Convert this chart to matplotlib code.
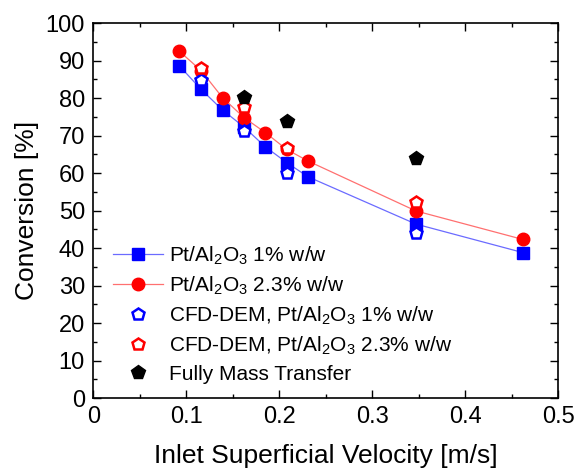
import matplotlib
matplotlib.use('Agg')
import matplotlib.pyplot as plt
from matplotlib.ticker import MultipleLocator

plt.rcParams['font.family'] = ['Liberation Sans', 'DejaVu Sans']
plt.rcParams['mathtext.fontset'] = 'custom'
plt.rcParams['mathtext.rm'] = 'Liberation Sans'

# experimental data
vel = [0.0925, 0.116, 0.139, 0.162, 0.185, 0.208, 0.231, 0.347, 0.462]
conv_1 = [88.6, 82.3, 76.8, 72.3, 67.0, 62.8, 59.0, 46.4, 38.8]
conv_23 = [92.5, 87.3, 80.1, 74.8, 70.8, 66.3, 63.2, 49.9, 42.3]

# CFD-DEM simulations
vel_cfd = [0.116, 0.162, 0.208, 0.347]
cfd_1 = [84.8, 71.2, 60.1, 44.1]
cfd_23 = [87.9, 77.5, 66.6, 52.4]

# fully mass transfer limited
vel_mt = [0.162, 0.208, 0.347]
conv_mt = [80.2, 73.9, 64.1]

fig = plt.figure(figsize=(5.76, 4.70), dpi=100)
ax = fig.add_axes([0.162, 0.153, 0.807, 0.798])

ax.plot(vel, conv_1, '-', color='#6b6bff', lw=0.9, marker='s', ms=8,
        mfc='blue', mec='blue', label=r'Pt/Al$_2$O$_3$ 1% w/w')
ax.plot(vel, conv_23, '-', color='#ff7070', lw=0.9, marker='o', ms=9,
        mfc='red', mec='red', label=r'Pt/Al$_2$O$_3$ 2.3% w/w')
ax.plot(vel_cfd, cfd_1, ls='none', marker='p', ms=9, mfc='white', mec='blue',
        mew=1.8, label=r'CFD-DEM, Pt/Al$_2$O$_3$ 1% w/w')
ax.plot(vel_cfd, cfd_23, ls='none', marker='p', ms=9, mfc='white', mec='red',
        mew=1.8, label=r'CFD-DEM, Pt/Al$_2$O$_3$ 2.3% w/w')
ax.plot(vel_mt, conv_mt, ls='none', marker='p', ms=10, color='black',
        label='Fully Mass Transfer')

ax.set_xlim(0, 0.5)
ax.set_ylim(0, 100)
ax.set_xticks([0, 0.1, 0.2, 0.3, 0.4, 0.5])
ax.set_xticklabels(['0', '0.1', '0.2', '0.3', '0.4', '0.5'])
ax.xaxis.set_minor_locator(MultipleLocator(0.05))
ax.yaxis.set_major_locator(MultipleLocator(10))
ax.yaxis.set_minor_locator(MultipleLocator(5))
ax.tick_params(which='both', direction='in', top=True, right=True, width=1)
ax.tick_params(which='major', length=5.5, labelsize=17, pad=6)
ax.tick_params(which='minor', length=3)
for s in ax.spines.values():
    s.set_linewidth(1.2)

ax.set_xlabel('Inlet Superficial Velocity [m/s]', fontsize=19)
ax.xaxis.set_label_coords(0.5, -0.122)
ax.set_ylabel('Conversion [%]', fontsize=19, labelpad=5)

ax.legend(loc='lower left', bbox_to_anchor=(0.01, 0.0), frameon=False,
          fontsize=15, handlelength=2.4, handletextpad=0.3, labelspacing=0.36,
          borderaxespad=0.3)

fig.savefig('out.png', dpi=100)
